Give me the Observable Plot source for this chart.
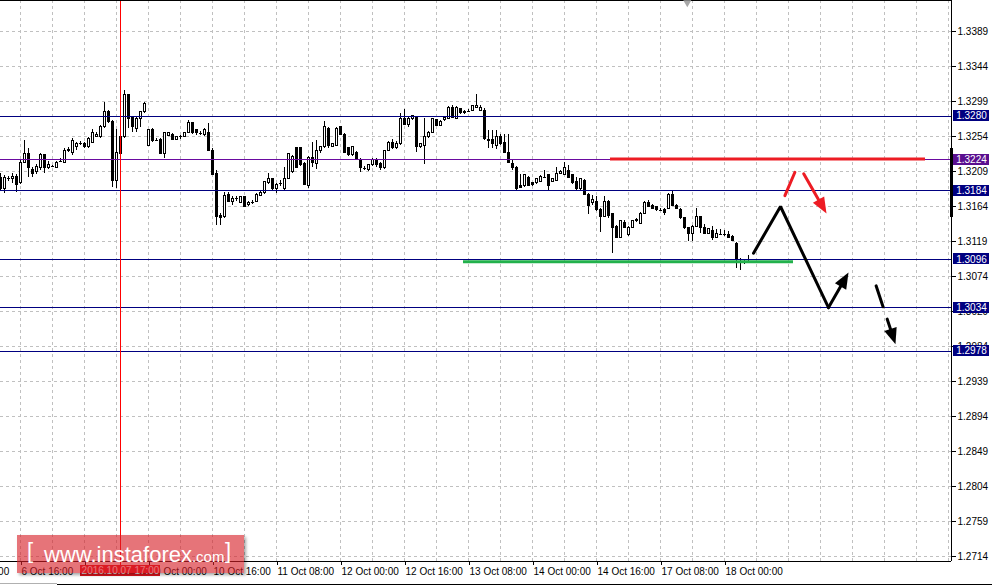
<!DOCTYPE html>
<html><head><meta charset="utf-8">
<script src="https://cdn.jsdelivr.net/npm/d3@7"></script>
<script src="https://cdn.jsdelivr.net/npm/@observablehq/plot@0.6"></script>
<style>
html,body{margin:0;padding:0;background:#fff;overflow:hidden}
#wrap{position:relative;width:992px;height:586px}
#wrap svg{display:block}
#wm{position:absolute;left:17px;top:535px;width:227px;height:38px;background:rgba(214,30,38,0.62);box-shadow:2px 2px 3px rgba(0,0,0,0.35);color:#fff;font-family:"Liberation Sans",Arial,sans-serif;white-space:nowrap}
#wm span{position:absolute}
.sb1{position:absolute;left:57px;top:584px;width:935px;height:1px;background:#000}
.sb0{position:absolute;left:0;top:583px;width:57px;height:1px;background:#b0b0b0}
</style></head>
<body>
<div id="wrap"></div>
<script>
// ---- data (H1 bars) ----
const firstBar = 11; // bar index of the first visible candle (6 Oct 11:00)
const open = [
1.3201,1.3187,1.3200,1.3199,1.3202,1.3194,1.3220,1.3232,1.3211,1.3208,
1.3214,1.3230,1.3213,1.3215,1.3214,1.3222,1.3220,1.3237,1.3233,1.3240,
1.3245,1.3245,1.3240,1.3246,1.3254,1.3253,1.3266,1.3285,1.3273,1.3197,
1.3254,1.3253,1.3307,1.3278,1.3264,1.3277,1.3285,1.3242,1.3263,1.3250,
1.3250,1.3232,1.3255,1.3256,1.3250,1.3254,1.3254,1.3259,1.3271,1.3262,
1.3258,1.3256,1.3259,1.3236,1.3206,1.3152,1.3150,1.3179,1.3170,1.3174,
1.3169,1.3176,1.3166,1.3169,1.3170,1.3178,1.3181,1.3194,1.3199,1.3187,
1.3194,1.3186,1.3200,1.3208,1.3239,1.3239,1.3219,1.3190,1.3226,1.3219,
1.3235,1.3240,1.3264,1.3241,1.3242,1.3266,1.3256,1.3239,1.3230,1.3233,
1.3224,1.3213,1.3211,1.3217,1.3224,1.3219,1.3213,1.3236,1.3246,1.3239,
1.3244,1.3276,1.3269,1.3276,1.3278,1.3240,1.3242,1.3253,1.3259,1.3275,
1.3268,1.3275,1.3277,1.3291,1.3277,1.3289,1.3286,1.3286,1.3287,1.3291,
1.3287,1.3287,1.3250,1.3249,1.3242,1.3254,1.3246,1.3233,1.3219,1.3214,
1.3191,1.3190,1.3201,1.3194,1.3194,1.3196,1.3201,1.3204,1.3196,1.3197,
1.3206,1.3205,1.3210,1.3204,1.3196,1.3187,1.3197,1.3179,1.3168,1.3170,
1.3160,1.3151,1.3170,1.3154,1.3138,1.3124,1.3143,1.3127,1.3137,1.3145,
1.3142,1.3155,1.3169,1.3165,1.3163,1.3160,1.3160,1.3161,1.3179,1.3165,
1.3160,1.3149,1.3136,1.3129,1.3138,1.3150,1.3136,1.3129,1.3132,1.3124,
1.3128,1.3128,1.3128,1.3125,1.3116,1.3096,1.3092,1.3096];
const high = [
1.3206,1.3204,1.3202,1.3206,1.3205,1.3223,1.3249,1.3239,1.3214,1.3218,
1.3232,1.3231,1.3222,1.3217,1.3222,1.3226,1.3239,1.3240,1.3251,1.3246,
1.3248,1.3246,1.3253,1.3263,1.3259,1.3268,1.3298,1.3287,1.3275,1.3263,
1.3256,1.3313,1.3308,1.3280,1.3278,1.3286,1.3298,1.3263,1.3264,1.3251,
1.3251,1.3259,1.3259,1.3258,1.3254,1.3255,1.3259,1.3275,1.3272,1.3263,
1.3260,1.3264,1.3271,1.3239,1.3210,1.3155,1.3182,1.3182,1.3177,1.3177,
1.3177,1.3177,1.3170,1.3172,1.3181,1.3183,1.3196,1.3206,1.3200,1.3194,
1.3197,1.3214,1.3232,1.3230,1.3240,1.3240,1.3220,1.3228,1.3246,1.3249,
1.3241,1.3273,1.3266,1.3245,1.3266,1.3267,1.3258,1.3240,1.3241,1.3235,
1.3226,1.3215,1.3218,1.3226,1.3226,1.3220,1.3236,1.3248,1.3250,1.3248,
1.3284,1.3289,1.3278,1.3281,1.3280,1.3245,1.3277,1.3260,1.3277,1.3276,
1.3275,1.3280,1.3293,1.3294,1.3293,1.3290,1.3287,1.3289,1.3294,1.3308,
1.3294,1.3290,1.3262,1.3262,1.3262,1.3256,1.3256,1.3256,1.3223,1.3215,
1.3205,1.3205,1.3202,1.3195,1.3200,1.3204,1.3210,1.3205,1.3200,1.3214,
1.3210,1.3220,1.3217,1.3205,1.3201,1.3200,1.3199,1.3181,1.3178,1.3177,
1.3161,1.3177,1.3172,1.3155,1.3140,1.3146,1.3146,1.3138,1.3146,1.3149,
1.3156,1.3170,1.3172,1.3166,1.3164,1.3161,1.3161,1.3181,1.3185,1.3166,
1.3161,1.3150,1.3137,1.3140,1.3161,1.3151,1.3141,1.3136,1.3138,1.3135,
1.3135,1.3133,1.3132,1.3127,1.3118,1.3097,1.3095,1.3101];
const low = [
1.3185,1.3181,1.3196,1.3194,1.3182,1.3192,1.3219,1.3201,1.3201,1.3205,
1.3210,1.3206,1.3211,1.3214,1.3213,1.3220,1.3219,1.3233,1.3230,1.3236,
1.3242,1.3239,1.3239,1.3245,1.3253,1.3251,1.3264,1.3271,1.3188,1.3187,
1.3230,1.3251,1.3264,1.3259,1.3259,1.3266,1.3284,1.3241,1.3246,1.3247,
1.3231,1.3226,1.3254,1.3249,1.3249,1.3250,1.3253,1.3258,1.3256,1.3255,
1.3255,1.3254,1.3235,1.3204,1.3140,1.3140,1.3149,1.3169,1.3165,1.3170,
1.3168,1.3163,1.3164,1.3166,1.3169,1.3177,1.3179,1.3192,1.3185,1.3181,
1.3190,1.3185,1.3199,1.3206,1.3213,1.3215,1.3191,1.3187,1.3214,1.3211,
1.3232,1.3239,1.3239,1.3240,1.3241,1.3255,1.3232,1.3228,1.3228,1.3223,
1.3208,1.3210,1.3209,1.3215,1.3214,1.3210,1.3211,1.3235,1.3237,1.3237,
1.3242,1.3268,1.3266,1.3275,1.3233,1.3239,1.3218,1.3251,1.3258,1.3267,
1.3267,1.3273,1.3276,1.3277,1.3276,1.3282,1.3282,1.3285,1.3286,1.3290,
1.3286,1.3249,1.3239,1.3239,1.3237,1.3242,1.3232,1.3219,1.3210,1.3185,
1.3187,1.3188,1.3190,1.3190,1.3192,1.3195,1.3200,1.3185,1.3195,1.3196,
1.3205,1.3204,1.3200,1.3192,1.3185,1.3185,1.3178,1.3154,1.3165,1.3157,
1.3131,1.3150,1.3149,1.3104,1.3123,1.3123,1.3136,1.3125,1.3136,1.3143,
1.3141,1.3154,1.3163,1.3160,1.3157,1.3157,1.3152,1.3160,1.3164,1.3160,
1.3147,1.3135,1.3119,1.3119,1.3137,1.3129,1.3128,1.3128,1.3120,1.3123,
1.3127,1.3125,1.3123,1.3119,1.3084,1.3082,1.3090,1.3093];
const close = [
1.3187,1.3201,1.3199,1.3202,1.3192,1.3220,1.3232,1.3214,1.3206,1.3215,
1.3230,1.3214,1.3217,1.3216,1.3220,1.3223,1.3235,1.3235,1.3248,1.3244,
1.3245,1.3240,1.3251,1.3258,1.3256,1.3266,1.3285,1.3273,1.3197,1.3233,
1.3232,1.3307,1.3277,1.3266,1.3277,1.3285,1.3296,1.3262,1.3248,1.3249,
1.3232,1.3258,1.3258,1.3250,1.3253,1.3254,1.3258,1.3271,1.3258,1.3258,
1.3258,1.3262,1.3236,1.3205,1.3150,1.3149,1.3178,1.3170,1.3174,1.3174,
1.3176,1.3164,1.3169,1.3169,1.3179,1.3181,1.3195,1.3200,1.3186,1.3192,
1.3194,1.3200,1.3231,1.3228,1.3214,1.3217,1.3192,1.3227,1.3220,1.3236,
1.3240,1.3266,1.3242,1.3244,1.3264,1.3256,1.3233,1.3230,1.3240,1.3224,
1.3214,1.3213,1.3217,1.3224,1.3217,1.3213,1.3235,1.3246,1.3239,1.3245,
1.3276,1.3269,1.3277,1.3280,1.3240,1.3244,1.3253,1.3259,1.3276,1.3268,
1.3273,1.3278,1.3291,1.3278,1.3291,1.3284,1.3284,1.3286,1.3293,1.3293,
1.3291,1.3251,1.3248,1.3244,1.3254,1.3245,1.3233,1.3220,1.3213,1.3186,
1.3188,1.3204,1.3191,1.3192,1.3199,1.3202,1.3202,1.3191,1.3199,1.3206,
1.3208,1.3213,1.3201,1.3194,1.3187,1.3199,1.3179,1.3165,1.3172,1.3160,
1.3151,1.3170,1.3152,1.3137,1.3124,1.3145,1.3137,1.3137,1.3145,1.3147,
1.3155,1.3169,1.3164,1.3161,1.3159,1.3159,1.3156,1.3179,1.3165,1.3161,
1.3149,1.3136,1.3129,1.3138,1.3150,1.3137,1.3129,1.3135,1.3123,1.3129,
1.3129,1.3128,1.3124,1.3120,1.3096,1.3095,1.3092,1.3097];

const yTicks = [1.3389,1.3344,1.3299,1.3254,1.3209,1.3164,1.3119,1.3074,1.3029,1.2984,1.2939,1.2894,1.2849,1.2804,1.2759,1.2714];
const xTickBars = [0,16,32,48,64,80,96,112,128,144,160,176,192];
const xTickLabels = ["6 Oct 00:00","6 Oct 16:00","7 Oct 08:00","10 Oct 00:00","10 Oct 16:00","11 Oct 08:00","12 Oct 00:00","12 Oct 16:00","13 Oct 08:00","14 Oct 00:00","14 Oct 16:00","17 Oct 08:00","18 Oct 00:00"];
const gridBars = [16,24,32,40,48,56,64,72,80,88,96,104,112,120,128,136,144,152,160,168,176,184,192,200,208,216,224,232,240,248];
const navyLevels = [1.3280,1.3184,1.3096,1.3034,1.2978];
const navyLabels = ["1.3280","1.3184","1.3096","1.3034","1.2978"];
const purpleLevels = [1.3224];
const purpleLabels = ["1.3224"];
const markerBar = 41;
const markerLabel = "2016.10.07 17:00";
const shiftBar = 182.7;
const supportSeg = [{x1:126.75, x2:209.25, y:1.3093}];
const resistSeg = [{x1:163.5, x2:242.25, y:1.3225}];
const zigzag = [{x:199.25, y:1.3104},{x:206, y:1.3164},{x:218, y:1.3034}];
const redTick = [{x:207.1, y:1.3178},{x:209.6, y:1.3208}];
const blackArrow = [{x1:218, y1:1.3034, x2:223, y2:1.3079}];
const redArrow = [{x1:211.8, y1:1.3206, x2:217.5, y2:1.3155}];
const dashArrow = [{x1:229.9, y1:1.3062, x2:234.75, y2:1.2987}];
const edgeBar = [{y1:1.3239, y2:1.3150}];

// ---- layout ----
const W = 992, H = 586, mR = 41, mB = 25;
const xDomain = [11, 248.75], yDomain = [1.270758, 1.342886];
const kx = (W - mR) / (xDomain[1] - xDomain[0]);
const ky = (H - mB) / (yDomain[1] - yDomain[0]);
const X = px => xDomain[0] + px / kx;      // pixel -> bar index
const Y = py => yDomain[1] - py / ky;      // pixel -> price

const bars = open.map((o, k) => ({i: firstBar + k, o, h: high[k], l: low[k], c: close[k]}));
const bullBodies = bars.filter(d => Math.abs(d.o - d.c) * ky >= 1 && d.c > d.o);
const bearBodies = bars.filter(d => Math.abs(d.o - d.c) * ky >= 1 && d.c < d.o);
const flats = bars.filter(d => Math.abs(d.o - d.c) * ky < 1);

const NAVY = "#000080", PURPLE = "#6a0aa0", RED = "#ed1c24", GREEN = "#22b14c";
const CRISP = {shapeRendering: "crispEdges"};
const headSym = {draw(ctx, size){ const k = Math.sqrt(size / Math.PI) / 5; ctx.moveTo(0,0); ctx.lineTo(-6.5*k, 16*k); ctx.lineTo(6.5*k, 16*k); ctx.closePath(); }};
const rot = d => Math.atan2((d.x2 - d.x1) * kx, (d.y2 - d.y1) * ky) * 180 / Math.PI;
const head = (arr, color) => Plot.dot(arr, {x:"x2", y:"y2", symbol: headSym, r: 5, rotate: rot, fill: color, stroke: "none"});
const shaft = (arr, color, extra={}) => Plot.arrow(arr, {x1:"x1", y1:"y1", x2:"x2", y2:"y2", stroke: color, strokeWidth: 3, headLength: 0, insetEnd: 9, ...extra});
const FONT = '"Liberation Sans", Arial, sans-serif';
const FS = 10;
const levelBox = (vals, labels, fill) => [
  Plot.rect(vals, {x1: X(953), x2: X(989), y1: d => d - 5.5 / ky, y2: d => d + 5.5 / ky, fill, ...CRISP}),
  Plot.text(vals, {x: X(971), y: d => d, text: (d, i) => labels[i], fill: "#fff", fontSize: FS, textAnchor: "middle"})
];

const chart = Plot.plot({
  width: W, height: H,
  marginTop: 0, marginLeft: 0, marginRight: mR, marginBottom: mB,
  x: {type: "linear", domain: xDomain, label: null},
  y: {type: "linear", domain: yDomain, label: null},
  style: {fontFamily: FONT, fontSize: FS + "px", color: "#000", background: "#fff", overflow: "visible"},
  marks: [
    Plot.gridY({ticks: yTicks, stroke: "#c0c0c0", strokeOpacity: 1, strokeDasharray: "3,3", ...CRISP}),
    Plot.gridX({ticks: gridBars, stroke: "#c0c0c0", strokeOpacity: 1, strokeDasharray: "3,3", ...CRISP}),
    // candles
    Plot.ruleX(bars, {x: "i", y1: "l", y2: "h", stroke: "#000", ...CRISP}),
    Plot.rect(bullBodies, {x1: d => d.i - 0.25, x2: d => d.i + 0.25, y1: "o", y2: "c", fill: "#fff", stroke: "#000", ...CRISP}),
    Plot.rect(bearBodies, {x1: d => d.i - 0.25, x2: d => d.i + 0.25, y1: "o", y2: "c", fill: "#000", stroke: "#000", ...CRISP}),
    Plot.ruleY(flats, {y: d => (d.o + d.c) / 2, x1: d => d.i - 0.375, x2: d => d.i + 0.375, stroke: "#000", ...CRISP}),
    // horizontal levels
    Plot.ruleY(navyLevels, {y: d => d, stroke: NAVY, ...CRISP}),
    Plot.ruleY(purpleLevels, {y: d => d, stroke: PURPLE, ...CRISP}),
    // time marker
    Plot.ruleX([markerBar], {x: d => d, y1: yDomain[1], y2: Y(565), stroke: "#ff0000", ...CRISP}),
    // frame
    Plot.ruleY([yDomain[1], yDomain[0]], {y: d => d, stroke: "#000", ...CRISP}),
    Plot.ruleX([xDomain[1]], {x: d => d, stroke: "#000", ...CRISP}),
    Plot.ruleX(edgeBar, {x: xDomain[1], y1: "y1", y2: "y2", stroke: "#000", strokeWidth: 3, ...CRISP}),
    Plot.dot([shiftBar], {x: d => d, frameAnchor: "top", symbol: "triangle", rotate: 180, r: 3, fill: "#a8a8a8", stroke: "none", dy: 2}),
    // hand-drawn annotations
    Plot.ruleY(supportSeg, {y: "y", x1: "x1", x2: "x2", stroke: GREEN, strokeWidth: 3}),
    Plot.ruleY(resistSeg, {y: "y", x1: "x1", x2: "x2", stroke: RED, strokeWidth: 3}),
    Plot.line(zigzag, {x: "x", y: "y", stroke: "#000", strokeWidth: 3, strokeLinejoin: "miter"}),
    shaft(blackArrow, "#000"), head(blackArrow, "#000"),
    Plot.line(redTick, {x: "x", y: "y", stroke: RED, strokeWidth: 3}),
    shaft(redArrow, RED), head(redArrow, RED),
    shaft(dashArrow, "#000", {strokeDasharray: "22,13,200"}), head(dashArrow, "#000"),
    // axes
    Plot.axisX({ticks: xTickBars, tickFormat: d => xTickLabels[xTickBars.indexOf(d)], textAnchor: "start", tickSize: 4, tickPadding: 2, dx: 1, fontSize: FS, ...CRISP}),
    Plot.axisY({anchor: "right", ticks: yTicks, tickFormat: d => d.toFixed(4), tickSize: 4, tickPadding: 2, fontSize: FS, ...CRISP}),
    // level price boxes
    ...levelBox(navyLevels, navyLabels, NAVY),
    ...levelBox(purpleLevels, purpleLabels, "#5a0f8f"),
    // time marker box
    Plot.rect([markerBar], {x1: X(80), x2: X(160), y1: Y(565), y2: Y(576), fill: "#e0141c", ...CRISP}),
    Plot.text([markerLabel], {x: markerBar, y: Y(570.5), text: d => d, fill: "#fff", fontSize: FS, textAnchor: "middle"})
  ]
});
const wrap = document.getElementById("wrap");
wrap.appendChild(chart);
const wm = document.createElement("div");
wm.id = "wm";
wm.innerHTML = '<span style="left:10px;top:3px;font-size:22px;font-weight:300">[</span>' +
  '<span style="left:27px;top:7px;font-size:22px">www.instaforex<span style="position:static;font-size:15px">.com</span></span>' +
  '<span style="left:208px;top:3px;font-size:22px;font-weight:300">]</span>';
wrap.appendChild(wm);
const s0 = document.createElement("div"); s0.className = "sb0"; wrap.appendChild(s0);
const s1 = document.createElement("div"); s1.className = "sb1"; wrap.appendChild(s1);
</script>
</body></html>
